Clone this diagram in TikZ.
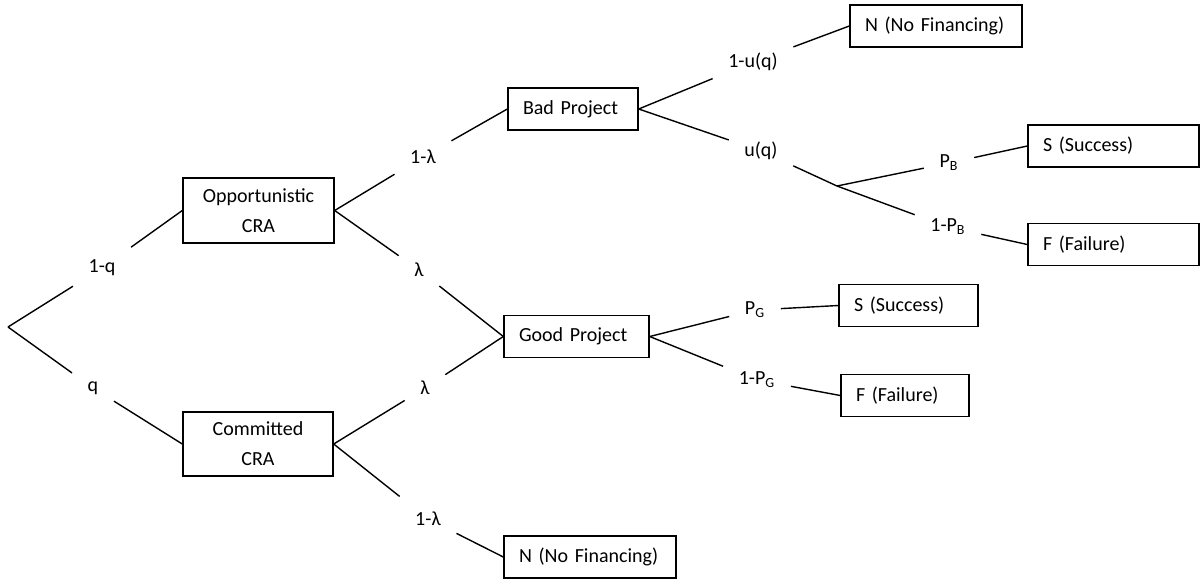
\documentclass[tikz,border=0pt]{standalone}
\usepackage{fontspec}
\setmainfont{Carlito}
\usepackage{tikz}

\begin{document}
\begin{tikzpicture}[x=0.5pt,y=-0.5pt,line width=0.7pt,
    every node/.style={font=\fontsize{10}{15}\selectfont},
    box/.style={draw,minimum height=21pt,inner xsep=7.5pt,align=left},
    prob/.style={inner sep=7.5pt}]
  \useasboundingbox (0,0) rectangle (1200,579);
  \coordinate (root) at (8,327);
  \coordinate (split) at (837,186);
  \node[box,align=center,text width=60.5pt,minimum height=32.5pt] (opp) at (258.5,210.5) {Opportunistic\\CRA};
  \node[box,align=center,text width=60pt,minimum height=32pt] (com) at (258,444) {Committed\\CRA};
  \node[box,text width=50pt] (bad) at (573,109) {Bad Project};
  \node[box,text width=57.5pt] (good) at (576.5,336.5) {Good Project};
  \node[box,text width=71pt] (nfin1) at (936,26) {N (No Financing)};
  \node[box,text width=70.5pt] (succ1) at (1113.5,146) {S (Success)};
  \node[box,text width=70.5pt] (fail1) at (1113.5,244.5) {F (Failure)};
  \node[box,text width=54.5pt] (succ2) at (908.5,305.5) {S (Success)};
  \node[box,text width=49pt] (fail2) at (905,395.5) {F (Failure)};
  \node[box,text width=71pt] (nfin2) at (590,557) {N (No Financing)};
  \node[prob] (l1q) at (102,268) {1-q};
  \node[prob] (lq) at (93,388) {q};
  \node[prob] (l1lam1) at (423,157) {1-λ};
  \node[prob] (llam1) at (419,270) {λ};
  \node[prob] (llam2) at (425,388) {λ};
  \node[prob] (l1lam2) at (428,519) {1-λ};
  \node[prob] (l1uq) at (753,62) {1-u(q)};
  \node[prob] (luq) at (761,151) {u(q)};
  \node[prob] (lpb) at (949,163) {P\textsubscript{B}};
  \node[prob] (l1pb) at (948,227) {1-P\textsubscript{B}};
  \node[prob] (lpg) at (755,310) {P\textsubscript{G}};
  \node[prob] (l1pg) at (757,380) {1-P\textsubscript{G}};
  \draw (root) -- (l1q) -- (opp.west);
  \draw (root) -- (lq) -- (com.west);
  \draw (opp.east) -- (l1lam1) -- (bad.west);
  \draw (opp.east) -- (llam1) -- (good.west);
  \draw (com.east) -- (llam2) -- (good.west);
  \draw (com.east) -- (l1lam2) -- (nfin2.west);
  \draw (bad.east) -- (l1uq) -- (nfin1.west);
  \draw (bad.east) -- (luq) -- (split);
  \draw (split) -- (lpb) -- (succ1.west);
  \draw (split) -- (l1pb) -- (fail1.west);
  \draw (good.east) -- (lpg) -- (succ2.west);
  \draw (good.east) -- (l1pg) -- (fail2.west);
\end{tikzpicture}
\end{document}
